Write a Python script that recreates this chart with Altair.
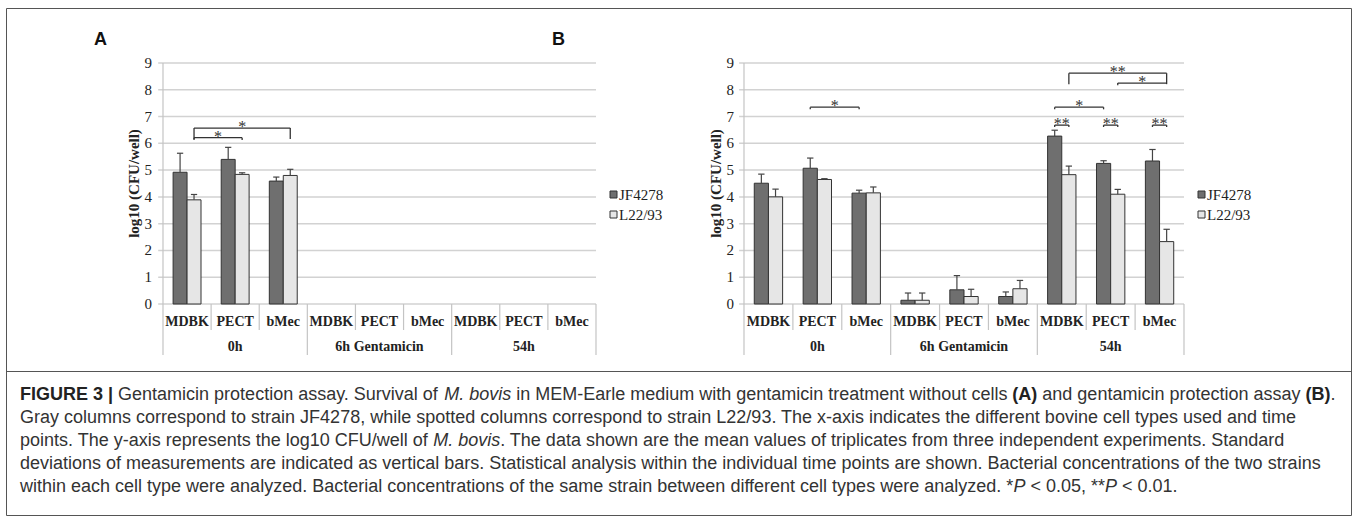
import altair as alt
import pandas as pd

# ---------------- data ----------------
cells = ["MDBK", "PECT", "bMec", "MDBK", "PECT", "bMec", "MDBK", "PECT", "bMec"]
groups = ["0h", "6h Gentamicin", "54h"]
strains = ["JF4278", "L22/93"]

# Panel A (no cells)
a_jf = [4.92, 5.40, 4.59, 0, 0, 0, 0, 0, 0]
a_jf_sd = [0.71, 0.45, 0.15, 0, 0, 0, 0, 0, 0]
a_l22 = [3.89, 4.84, 4.80, 0, 0, 0, 0, 0, 0]
a_l22_sd = [0.20, 0.06, 0.23, 0, 0, 0, 0, 0, 0]

# Panel B (gentamicin protection assay)
b_jf = [4.51, 5.07, 4.14, 0.14, 0.53, 0.28, 6.27, 5.25, 5.34]
b_jf_sd = [0.34, 0.38, 0.11, 0.27, 0.53, 0.17, 0.22, 0.10, 0.43]
b_l22 = [4.00, 4.65, 4.15, 0.14, 0.28, 0.57, 4.83, 4.10, 2.33]
b_l22_sd = [0.29, 0.03, 0.22, 0.27, 0.27, 0.31, 0.32, 0.18, 0.46]

# significance brackets: (cat1, strain1, cat2, strain2, level, drop1, drop2, label)
a_brackets = [
    (0, "L22/93", 1, "L22/93", 6.21, 0.09, 0.09, "*"),
    (0, "L22/93", 2, "L22/93", 6.57, 0.41, 0.41, "*"),
]
b_brackets = [
    (1, "JF4278", 2, "JF4278", 7.35, 0.08, 0.08, "*"),
    (6, "JF4278", 7, "JF4278", 7.35, 0.08, 0.08, "*"),
    (6, "L22/93", 8, "L22/93", 8.62, 0.41, 0.41, "**"),
    (7, "L22/93", 8, "L22/93", 8.25, 0.08, 0.0, "*"),
    (6, "JF4278", 6, "L22/93", 6.68, 0.07, 0.07, "**"),
    (7, "JF4278", 7, "L22/93", 6.68, 0.07, 0.07, "**"),
    (8, "JF4278", 8, "L22/93", 6.68, 0.07, 0.07, "**"),
]

# caption: each line is a list of (text, style)  n=normal, b=bold, i=italic
caption_lines = [
    [("FIGURE 3 |", "b"), (" Gentamicin protection assay. Survival of ", "n"), ("M. bovis", "i"),
     (" in MEM-Earle medium with gentamicin treatment without cells ", "n"), ("(A)", "b"),
     (" and gentamicin protection assay ", "n"), ("(B)", "b"), (".", "n")],
    [("Gray columns correspond to strain JF4278, while spotted columns correspond to strain L22/93. The x-axis indicates the different bovine cell types used and time", "n")],
    [("points. The y-axis represents the log10 CFU/well of ", "n"), ("M. bovis", "i"),
     (". The data shown are the mean values of triplicates from three independent experiments. Standard", "n")],
    [("deviations of measurements are indicated as vertical bars. Statistical analysis within the individual time points are shown. Bacterial concentrations of the two strains", "n")],
    [("within each cell type were analyzed. Bacterial concentrations of the same strain between different cell types were analyzed. *", "n"),
     ("P", "i"), (" < 0.05, **", "n"), ("P", "i"), (" < 0.01.", "n")],
]

# ---------------- style / layout ----------------
SERIF = "Liberation Serif"
SANS = "Liberation Sans"
CAP_FS = 18
CAP_X0 = 20
CAP_Y = [395, 418, 441, 464, 487]
BW = 0.29          # bar width in category units
CAP = 0.065        # error cap half width
Y0_PX, Y9_PX = 304, 63
yscale = alt.Scale(domain=[0, 9], range=[Y0_PX, Y9_PX], nice=False, zero=False)
BAR_COLORS = ["#6f6f6f", "#e6e6e6"]

# Helvetica/Arial (= Liberation Sans) advance widths, per 1000 em
_W = {" ": 278, "!": 278, "(": 333, ")": 333, "*": 389, "+": 584, ",": 278, "-": 333, ".": 278,
      "/": 278, ":": 278, ";": 278, "<": 584, "=": 584, ">": 584, "|": 260}
_W.update({d: 556 for d in "0123456789"})
_W.update(dict(zip("ABCDEFGHIJKLMNOPQRSTUVWXYZ",
                   [667, 667, 722, 722, 667, 611, 778, 722, 278, 500, 667, 556, 833, 722, 778,
                    667, 778, 722, 667, 611, 722, 667, 944, 667, 667, 611])))
_W.update(dict(zip("abcdefghijklmnopqrstuvwxyz",
                   [556, 556, 500, 556, 556, 278, 556, 556, 222, 222, 500, 222, 833, 556, 556,
                    556, 556, 333, 500, 278, 556, 500, 722, 500, 500, 500])))
_WB = dict(_W)
_WB.update({"A": 722, "B": 722, "|": 280, "U": 722, "R": 722, "G": 778})


def text_width(s, style):
    tab = _WB if style == "b" else _W
    return sum(tab.get(ch, 556) for ch in s) * CAP_FS / 1000.0


def bar_frame(vals_jf, sd_jf, vals_l, sd_l):
    rows = []
    for i in range(9):
        c = i + 0.5
        for s, v, sd, x0, x1 in ((strains[0], vals_jf[i], sd_jf[i], c - BW, c),
                                 (strains[1], vals_l[i], sd_l[i], c, c + BW)):
            if v > 0:
                xc = (x0 + x1) / 2
                rows.append(dict(strain=s, x0=x0, x1=x1, xc=xc, cl=xc - CAP, cr=xc + CAP,
                                 v0=0.0, v=v, top=v + sd))
    return pd.DataFrame(rows)


def bracket_frames(brs):
    segs, labs = [], []
    for c1, s1, c2, s2, lev, d1, d2, lab in brs:
        xa = c1 + 0.5 + (-BW / 2 if s1 == strains[0] else BW / 2)
        xb = c2 + 0.5 + (-BW / 2 if s2 == strains[0] else BW / 2)
        segs.append(dict(xa=xa, xb=xb, ya=lev, yb=lev))
        if d1 > 0:
            segs.append(dict(xa=xa, xb=xa, ya=lev - d1, yb=lev))
        if d2 > 0:
            segs.append(dict(xa=xb, xb=xb, ya=lev - d2, yb=lev))
        labs.append(dict(xm=(xa + xb) / 2, y=lev, label=lab))
    return pd.DataFrame(segs), pd.DataFrame(labs)


def panel(vals_jf, sd_jf, vals_l, sd_l, brs, x_range, tick_label_x, title_x):
    xs = alt.Scale(domain=[0, 9], range=x_range, nice=False, zero=False)
    X = lambda f: alt.X(f, scale=xs, axis=None)
    Y = lambda f: alt.Y(f, scale=yscale, axis=None)

    grid_df = pd.DataFrame({"y": list(range(10)), "x0": -0.1, "x1": 9.0})
    grid = alt.Chart(grid_df).mark_rule(color="#d2d2d2", strokeWidth=1.5).encode(
        x=X("x0:Q"), x2="x1", y=Y("y:Q"))
    yaxis = alt.Chart(pd.DataFrame({"x": [0.0], "a": [0.0], "b": [9.0]})).mark_rule(
        color="#c4c4c4", strokeWidth=1.2).encode(x=X("x:Q"), y=Y("a:Q"), y2="b")
    ylabels = alt.Chart(pd.DataFrame({"y": list(range(10))})).mark_text(
        font=SERIF, fontSize=15, align="right", baseline="middle", color="#222").encode(
        x=alt.value(tick_label_x), y=Y("y:Q"), text="y:Q")

    minor = alt.Chart(pd.DataFrame({"x": [1, 2, 4, 5, 7, 8]})).mark_rule(
        color="#c4c4c4", strokeWidth=1.2).encode(
        x=X("x:Q"), y=alt.value(Y0_PX), y2=alt.value(330))
    major = alt.Chart(pd.DataFrame({"x": [0, 3, 6, 9]})).mark_rule(
        color="#c4c4c4", strokeWidth=1.2).encode(
        x=X("x:Q"), y=alt.value(Y0_PX), y2=alt.value(355))
    cat_df = pd.DataFrame({"x": [i + 0.5 for i in range(9)], "cell": cells})
    catlab = alt.Chart(cat_df).mark_text(
        font=SERIF, fontSize=14, fontWeight="bold", baseline="middle", color="#222").encode(
        x=X("x:Q"), y=alt.value(322), text="cell:N")
    grp_df = pd.DataFrame({"x": [1.5, 4.5, 7.5], "grp": groups})
    grplab = alt.Chart(grp_df).mark_text(
        font=SERIF, fontSize=14, fontWeight="bold", baseline="middle", color="#222").encode(
        x=X("x:Q"), y=alt.value(347), text="grp:N")

    ytitle = alt.Chart(pd.DataFrame({"t": ["log10 (CFU/well)"]})).mark_text(
        font=SERIF, fontSize=15, fontWeight="bold", angle=270, baseline="middle",
        color="#222").encode(x=alt.value(title_x), y=alt.value((Y0_PX + Y9_PX) / 2), text="t:N")

    bdf = bar_frame(vals_jf, sd_jf, vals_l, sd_l)
    bars = alt.Chart(bdf).mark_bar(stroke="#333333", strokeWidth=1).encode(
        x=X("x0:Q"), x2="x1", y=Y("v0:Q"), y2="v",
        fill=alt.Fill("strain:N", scale=alt.Scale(domain=strains, range=BAR_COLORS), legend=None))
    err = alt.Chart(bdf).mark_rule(color="#444", strokeWidth=1.2).encode(
        x=X("xc:Q"), y=Y("v:Q"), y2="top")
    caps = alt.Chart(bdf).mark_rule(color="#444", strokeWidth=1.2).encode(
        x=X("cl:Q"), x2="cr", y=Y("top:Q"))

    layers = [grid, yaxis, ylabels, minor, major, catlab, grplab, ytitle, bars, err, caps]
    if brs:
        seg_df, lab_df = bracket_frames(brs)
        segs = alt.Chart(seg_df).mark_rule(color="#333", strokeWidth=1.3).encode(
            x=X("xa:Q"), x2="xb", y=Y("ya:Q"), y2="yb")
        stars = alt.Chart(lab_df).mark_text(
            font=SERIF, fontSize=16, baseline="alphabetic", dy=4, color="#333").encode(
            x=X("xm:Q"), y=Y("y:Q"), text="label:N")
        layers += [segs, stars]
    return alt.layer(*layers)


panelA = panel(a_jf, a_jf_sd, a_l22, a_l22_sd, a_brackets, [163, 596], 152, 134)
panelB = panel(b_jf, b_jf_sd, b_l22, b_l22_sd, b_brackets, [744, 1184], 734, 716)


def legend(x):
    out = []
    for s, col, yy in ((strains[0], BAR_COLORS[0], 195), (strains[1], BAR_COLORS[1], 215)):
        out.append(alt.Chart(pd.DataFrame({"s": [s]})).mark_rect(
            fill=col, stroke="#333", strokeWidth=1).encode(
            x=alt.value(x), x2=alt.value(x + 7), y=alt.value(yy - 4), y2=alt.value(yy + 3)))
        out.append(alt.Chart(pd.DataFrame({"s": [s]})).mark_text(
            font=SERIF, fontSize=15, align="left", baseline="middle", color="#222").encode(
            x=alt.value(x + 9), y=alt.value(yy), text="s:N"))
    return out


deco = []
deco += legend(610)
deco += legend(1198)
for lab, lx in (("A", 94), ("B", 552)):
    deco.append(alt.Chart(pd.DataFrame({"t": [lab]})).mark_text(
        font=SANS, fontSize=18, fontWeight="bold", align="left", baseline="middle",
        color="#111").encode(x=alt.value(lx), y=alt.value(40), text="t:N"))
# frame and divider
deco.append(alt.Chart(pd.DataFrame({"k": [0]})).mark_rect(
    fill=None, stroke="#555", strokeWidth=1).encode(
    x=alt.value(6.5), x2=alt.value(1351.5), y=alt.value(8.5), y2=alt.value(515.5)))
deco.append(alt.Chart(pd.DataFrame({"k": [0]})).mark_rule(
    color="#555", strokeWidth=1).encode(
    x=alt.value(6.5), x2=alt.value(1351.5), y=alt.value(371.5)))

# caption, segment by segment (mixed bold / italic)
for segs, yy in zip(caption_lines, CAP_Y):
    xpos = CAP_X0
    for txt, st in segs:
        lead = len(txt) - len(txt.lstrip(" "))
        trail = len(txt) - len(txt.rstrip(" "))
        core = txt.strip(" ")
        xpos += text_width(" " * lead, "n")
        kw = dict(font=SANS, fontSize=CAP_FS, align="left", baseline="middle",
                  color="#222" if st == "b" else "#333")
        if st == "b":
            kw["fontWeight"] = "bold"
        if st == "i":
            kw["fontStyle"] = "italic"
        deco.append(alt.Chart(pd.DataFrame({"t": [core]})).mark_text(**kw).encode(
            x=alt.value(round(xpos, 2)), y=alt.value(yy), text="t:N"))
        xpos += text_width(core, st) + text_width(" " * trail, "n")

chart = alt.layer(panelA, panelB, *deco).resolve_scale(x="independent").properties(
    width=1358, height=523, autosize=alt.AutoSizeParams(type="none"), padding=0,
    background="white"
).configure_view(stroke=None)

chart.save("out.html", embed_options={"renderer": "svg", "actions": False})
